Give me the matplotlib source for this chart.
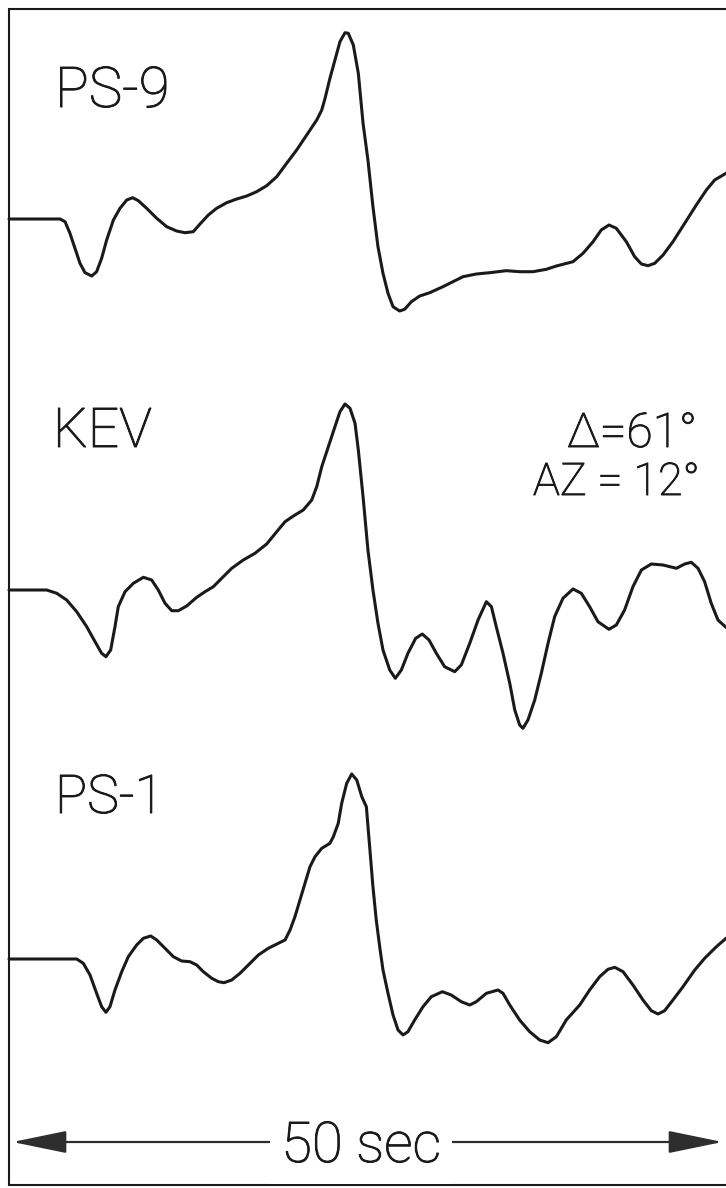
import matplotlib
matplotlib.use("Agg")
import matplotlib.pyplot as plt
import matplotlib.patheffects as pe
from matplotlib.patches import FancyArrowPatch

t_ps9 = [0.0, 3.56, 3.91, 4.25, 4.60, 4.95, 5.30, 5.77, 6.11, 6.46, 6.81, 7.28, 7.74,
         8.21, 8.62, 9.02, 9.60, 10.30, 11.00, 11.69, 12.27, 12.85, 13.32, 13.90, 14.48,
         15.18, 15.88, 16.58, 17.27, 17.97, 18.67, 19.36, 20.06, 20.76, 21.46, 21.81,
         22.04, 22.38, 22.73, 23.08, 23.43, 23.66, 24.01, 24.36, 24.69, 25.03, 25.38,
         25.73, 26.08, 26.43, 26.78, 27.24, 27.59, 28.06, 28.64, 29.34, 30.26, 30.96,
         31.66, 32.59, 33.52, 34.68, 35.61, 36.54, 37.47, 38.17, 39.33, 40.03, 40.73,
         41.30, 41.84, 42.35, 43.05, 43.63, 44.10, 44.56, 45.03, 45.61, 46.30, 47.12,
         47.93, 48.63, 49.21, 50.0]
a_ps9 = [0.0, 0.0, -0.27, -1.43, -2.93, -4.43, -5.37, -5.7, -5.27, -3.93, -2.1, -0.1, 1.07,
         1.9, 2.13, 1.83, 1.07, 0.07, -0.77, -1.2, -1.37, -1.27, -0.5, 0.4, 1.07,
         1.63, 2.0, 2.3, 2.73, 3.33, 4.23, 5.57, 6.9, 8.4, 9.9, 10.9,
         12.07, 14.07, 15.9, 17.73, 18.63, 18.57, 17.4, 14.57, 9.57, 5.9, 1.23,
         -2.77, -5.43, -7.43, -8.77, -9.2, -9.03, -8.27, -7.7, -7.37, -6.77, -6.27,
         -5.77, -5.5, -5.37, -5.17, -5.27, -5.27, -5.03, -4.7, -4.27, -3.43, -2.27,
         -1.1, -0.6, -0.93, -2.27, -3.77, -4.5, -4.67, -4.43, -3.6, -2.27, -0.43,
         1.4, 2.9, 3.9, 4.57]

t_kev = [0.0, 2.63, 3.33, 4.02, 4.72, 5.42, 6.00, 6.46, 6.76, 7.09, 7.39, 7.62, 8.09,
         8.67, 9.37, 9.95, 10.41, 10.88, 11.35, 11.81, 12.39, 13.09, 13.67, 14.25, 14.83,
         15.53, 16.34, 17.15, 17.97, 18.67, 19.25, 19.83, 20.52, 21.11, 21.46, 21.81,
         22.27, 22.73, 23.08, 23.43, 23.78, 24.13, 24.36, 24.69, 25.03, 25.38, 25.73,
         26.08, 26.55, 26.94, 27.36, 27.82, 28.36, 28.82, 29.29, 29.80, 30.38, 31.08,
         31.54, 32.13, 32.71, 33.29, 33.64, 33.98, 34.45, 34.92, 35.27, 35.61, 35.84,
         36.19, 36.66, 37.12, 37.59, 38.05, 38.63, 39.33, 39.91, 40.49, 41.07, 41.84,
         42.35, 42.93, 43.51, 44.10, 44.79, 45.61, 46.54, 47.12, 47.58, 48.05, 48.51,
         48.97, 49.44, 50.0]
a_kev = [0.0, 0.0, -0.33, -1.0, -2.17, -3.67, -5.17, -6.33, -6.67, -6.0, -3.67, -1.67, -0.17,
         0.67, 1.27, 1.0, 0.0, -1.33, -2.07, -2.07, -1.6, -0.73, -0.17, 0.33, 1.17,
         2.17, 3.0, 3.67, 4.6, 5.83, 6.83, 7.4, 8.0, 9.0, 10.33, 12.33,
         14.33, 16.33, 17.83, 18.6, 18.17, 16.67, 14.0, 9.33, 4.0, 0.0, -3.33,
         -6.0, -8.0, -8.83, -8.0, -6.33, -4.83, -4.4, -5.0, -6.33, -7.67, -8.17,
         -7.5, -5.33, -3.0, -1.17, -1.67, -3.67, -6.33, -9.33, -12.0, -13.5, -13.83,
         -13.0, -11.0, -8.33, -5.33, -2.67, -0.83, 0.1, -0.33, -1.67, -3.17, -3.93,
         -3.5, -2.0, 0.33, 2.0, 2.6, 2.5, 2.17, 2.6, 2.77, 2.17, 0.83,
         -1.33, -3.0, -3.73]

t_ps1 = [0.0, 4.72, 5.18, 5.65, 6.11, 6.46, 6.76, 7.04, 7.39, 7.86, 8.32, 8.90, 9.37,
         9.88, 10.30, 10.88, 11.46, 12.04, 12.62, 13.09, 13.55, 14.14, 14.60, 14.99, 15.53,
         16.11, 16.69, 17.39, 18.08, 18.78, 19.25, 19.60, 19.94, 20.29, 20.64, 20.99,
         21.34, 21.81, 22.38, 22.62, 22.96, 23.20, 23.55, 23.90, 24.25, 24.60, 24.92,
         25.15, 25.38, 25.61, 25.85, 26.08, 26.43, 26.78, 27.13, 27.48, 27.82, 28.29,
         28.87, 29.45, 30.22, 30.84, 31.54, 32.13, 32.59, 33.29, 34.10, 34.45, 34.92,
         35.61, 36.31, 37.01, 37.59, 38.17, 38.86, 39.80, 40.49, 41.19, 41.77, 42.24,
         42.82, 43.51, 44.21, 44.79, 45.26, 45.72, 46.30, 47.00, 47.82, 48.51, 49.33, 50.0]
a_ps1 = [0.0, 0.0, -0.43, -1.6, -3.43, -4.77, -5.33, -4.77, -3.1, -1.27, 0.23, 1.4, 2.07,
         2.3, 1.9, 1.07, 0.23, -0.2, -0.27, -0.6, -1.27, -1.93, -2.27, -2.37, -2.1,
         -1.43, -0.6, 0.4, 1.07, 1.57, 1.9, 2.9, 4.23, 5.9, 7.57, 9.23,
         10.23, 11.07, 11.57, 12.23, 13.57, 15.57, 17.57, 18.5, 17.9, 16.23, 15.23,
         11.23, 7.23, 3.9, 1.23, -1.1, -3.43, -5.6, -7.1, -7.6, -7.27, -6.1,
         -4.77, -3.77, -3.27, -3.6, -4.27, -4.6, -4.27, -3.43, -3.1, -3.43, -4.6,
         -6.1, -7.27, -8.1, -8.37, -7.77, -6.1, -4.6, -3.1, -1.77, -1.03, -0.83,
         -1.27, -2.6, -4.1, -5.17, -5.5, -5.17, -4.1, -2.77, -1.1, 0.07, 1.23, 2.07]

stations = ["PS-9", "KEV", "PS-1"]
traces = [(t_ps9, a_ps9), (t_kev, a_kev), (t_ps1, a_ps1)]
baselines = [96.9, 59.8, 22.9]
label_pos = [(3.21, 108.1, 40.5), (3.07, 74.1, 39.5), (3.21, 37.5, 38.5)]

ink = "#1a1a1a"
font = "Roboto"
thicken = [pe.withStroke(linewidth=0.7, foreground=ink)]

fig = plt.figure(figsize=(7.26, 11.88), dpi=100)
fig.patch.set_facecolor("white")
ax = fig.add_axes([0, 0, 1, 1])
ax.set_xlim(-0.628, 50.0)
ax.set_ylim(0, 118.8)
ax.axis("off")

# frame on three sides
ax.plot([0, 0], [0.3, 117.9], color=ink, lw=1.5, solid_capstyle="butt")
ax.plot([0, 50.0], [117.9, 117.9], color=ink, lw=1.5)
ax.plot([0, 50.0], [0.3, 0.3], color=ink, lw=1.5)

for name, (t, a), base, (lx, ly, fs) in zip(stations, traces, baselines, label_pos):
    ax.plot(t, [base + v for v in a], color=ink, lw=2.2,
            solid_joinstyle="round", solid_capstyle="round")
    ax.text(lx, ly, name, fontsize=fs, family=font, fontweight="light",
            ha="left", va="baseline", color=ink, path_effects=thicken)

ax.text(38.91, 74.1, "Δ=61°", fontsize=34.4, family=font, fontweight="light",
        ha="left", va="baseline", color=ink, path_effects=thicken)
ax.text(36.54, 69.3, "AZ = 12°", fontsize=32.4, family=font, fontweight="light",
        ha="left", va="baseline", color=ink, path_effects=thicken)

# time scale bar
arrow = FancyArrowPatch((0.05, 4.6), (49.95, 4.6),
                        arrowstyle="<|-|>,head_length=3.4,head_width=0.7",
                        mutation_scale=10, color="#2e2e2e", lw=1.6)
ax.add_patch(arrow)
ax.text(24.55, 2.6, "50 sec", fontsize=40.5, family=font, fontweight="light",
        ha="center", va="baseline", color=ink, path_effects=thicken,
        bbox=dict(boxstyle="square,pad=0.2", fc="white", ec="none"))

fig.savefig("out.png", dpi=100, facecolor="white")
